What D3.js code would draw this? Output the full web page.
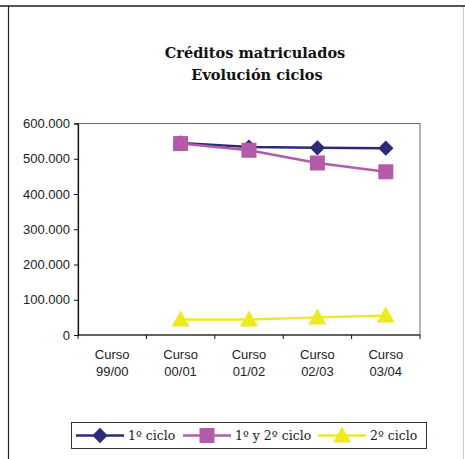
<!DOCTYPE html>
<html>
<head>
<meta charset="utf-8">
<script src="https://cdn.jsdelivr.net/npm/d3@7"></script>
<style>
  body { margin: 0; background: #fff; }
  svg { display: block; }
</style>
</head>
<body>
<svg width="465" height="459"></svg>
<script>
var categories = ["Curso 99/00", "Curso 00/01", "Curso 01/02", "Curso 02/03", "Curso 03/04"]
var ciclo1 = [null, 545000, 533000, 531000, 530000]
var ciclo12 = [null, 543000, 524000, 488000, 463000]
var ciclo2 = [null, 44000, 44000, 50000, 55000]
var yTicks = [0, 100000, 200000, 300000, 400000, 500000, 600000]

var series = [
  { name: "1º ciclo", values: ciclo1, color: "#2e2a78", marker: "diamond" },
  { name: "1º y 2º ciclo", values: ciclo12, color: "#b35aa8", marker: "square" },
  { name: "2º ciclo", values: ciclo2, color: "#eeea22", marker: "triangle" }
]

var svg = d3.select("svg")
var plot = { left: 78, top: 123.5, right: 420, bottom: 335 }

// outer chart frame
svg.append("line").attr("x1", 0).attr("x2", 465).attr("y1", 6).attr("y2", 6)
  .attr("stroke", "#555").attr("stroke-width", 2)
svg.append("line").attr("x1", 8.5).attr("x2", 8.5).attr("y1", 6).attr("y2", 459)
  .attr("stroke", "#222").attr("stroke-width", 1.2)
svg.append("line").attr("x1", 463.5).attr("x2", 463.5).attr("y1", 7).attr("y2", 459)
  .attr("stroke", "#ccc").attr("stroke-width", 1)

// title
var title = svg.append("text")
  .attr("text-anchor", "middle")
  .attr("font-family", "'DejaVu Serif', serif")
  .attr("font-weight", "bold")
  .attr("font-size", 14.5)
  .attr("fill", "#111")
title.append("tspan").attr("x", 255).attr("y", 58).text("Créditos matriculados")
title.append("tspan").attr("x", 257).attr("y", 80).text("Evolución ciclos")

var x = d3.scaleBand().domain(categories).range([plot.left, plot.right])
var y = d3.scaleLinear().domain([0, 600000]).range([plot.bottom, plot.top])

// plot border
svg.append("rect")
  .attr("x", plot.left).attr("y", plot.top)
  .attr("width", plot.right - plot.left).attr("height", plot.bottom - plot.top)
  .attr("fill", "none").attr("stroke", "#666").attr("stroke-width", 1)

var fmt = function (d) { return d === 0 ? "0" : d3.format(",")(d).replace(/,/g, ".") }

var yAxis = svg.append("g")
  .attr("transform", "translate(" + plot.left + ",0)")
  .call(d3.axisLeft(y).tickValues(yTicks).tickFormat(fmt).tickSize(4).tickPadding(4))
yAxis.select(".domain").attr("stroke", "#111").attr("stroke-width", 1.2)
yAxis.selectAll("line").attr("stroke", "#111")
yAxis.selectAll("text")
  .attr("font-family", "'Liberation Sans', Arial, sans-serif")
  .attr("font-size", 13).attr("fill", "#222")

var xAxis = svg.append("g")
  .attr("transform", "translate(0," + plot.bottom + ")")
xAxis.append("line").attr("x1", plot.left).attr("x2", plot.right)
  .attr("stroke", "#111").attr("stroke-width", 1.2)
var edges = categories.map(function (c) { return x(c) }).concat([plot.right])
xAxis.selectAll("line.tick").data(edges).enter().append("line")
  .attr("class", "tick")
  .attr("x1", function (d) { return d }).attr("x2", function (d) { return d })
  .attr("y1", 0).attr("y2", 4).attr("stroke", "#111")
var xl = xAxis.selectAll("text").data(categories).enter().append("text")
  .attr("text-anchor", "middle")
  .attr("font-family", "'Liberation Sans', Arial, sans-serif")
  .attr("font-size", 13).attr("fill", "#222")
xl.append("tspan").attr("x", function (d) { return x(d) + x.bandwidth() / 2 }).attr("y", 24)
  .text(function (d) { return d.split(" ")[0] })
xl.append("tspan").attr("x", function (d) { return x(d) + x.bandwidth() / 2 }).attr("y", 41)
  .text(function (d) { return d.split(" ")[1] })

function markerPath(type) {
  if (type === "diamond") return d3.symbol().type(d3.symbolDiamond2).size(150)()
  if (type === "square") return "M-7.5,-7.5H7.5V7.5H-7.5Z"
  return "M0,-9L9,7H-9Z"
}

var cx = function (i) { return x(categories[i]) + x.bandwidth() / 2 }

series.forEach(function (s) {
  var pts = s.values.map(function (v, i) { return { i: i, v: v } }).filter(function (p) { return p.v != null })
  var line = d3.line().x(function (p) { return cx(p.i) }).y(function (p) { return y(p.v) })
  svg.append("path").datum(pts).attr("d", line)
    .attr("fill", "none").attr("stroke", s.color).attr("stroke-width", 2.5)
  svg.selectAll(null).data(pts).enter().append("path")
    .attr("d", markerPath(s.marker))
    .attr("transform", function (p) { return "translate(" + cx(p.i) + "," + y(p.v) + ")" })
    .attr("fill", s.color)
})

// legend
var legend = svg.append("g")
legend.append("rect").attr("x", 71.5).attr("y", 422.5).attr("width", 355).attr("height", 26)
  .attr("fill", "#fff").attr("stroke", "#333").attr("stroke-width", 1)
var legX = [76, 183, 318]
series.forEach(function (s, k) {
  var g = legend.append("g").attr("transform", "translate(" + legX[k] + ",435.5)")
  g.append("line").attr("x1", 0).attr("x2", 48).attr("stroke", s.color).attr("stroke-width", 2.5)
  g.append("path").attr("d", markerPath(s.marker)).attr("transform", "translate(24,0)").attr("fill", s.color)
  g.append("text").attr("x", 52).attr("y", 4.5)
    .attr("font-family", "'DejaVu Serif', serif").attr("font-size", 12.5).attr("fill", "#222")
    .text(s.name)
})
</script>
</body>
</html>
